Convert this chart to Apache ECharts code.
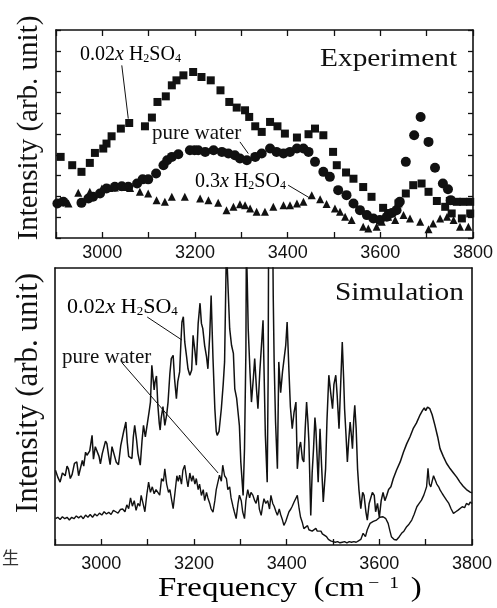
<!DOCTYPE html>
<html><head><meta charset="utf-8">
<script src="https://cdn.jsdelivr.net/npm/echarts@6/dist/echarts.min.js"></script>
<style>html,body{margin:0;padding:0;background:#fff}#c{width:497px;height:608px}</style>
</head><body><div id="c"></div>
<script>
// ---------- data ----------
const xTickLabels = [3000, 3200, 3400, 3600, 3800];

// Experiment (markers)
const expAcid002 = [[2910,3.9],[2935,3.5],[2955,3.18],[2973,3.61],[2984,4.09],[3002,4.30],[3009,4.54],[3020,4.89],[3040,5.26],[3058,5.53],[3092,5.37],[3107,5.79],[3119,6.54],[3137,6.81],[3150,7.34],[3160,7.58],[3175,7.82],[3196,7.98],[3214,7.74],[3234,7.58],[3255,7.10],[3274,6.54],[3290,6.27],[3308,6.14],[3317,5.82],[3330,5.37],[3344,5.10],[3362,5.58],[3378,5.37],[3394,5.02],[3420,4.83],[3445,4.99],[3459,5.26],[3477,4.94],[3498,4.14],[3506,3.5],[3526,3.15],[3542,2.85],[3563,2.45],[3581,1.98],[3606,1.45],[3617,1.2],[3639,1.66],[3655,2.14],[3671,2.54],[3689,2.62],[3704,2.22],[3722,1.78],[3740,1.5],[3750,1.78],[3754,1.18],[3765,1.74],[3776,0.94],[3779,1.74],[3794,1.74],[3794,1.18]];
const expWater = [[2903,1.66],[2916,1.74],[2955,1.69],[2970,1.90],[2980,1.98],[2995,2.14],[3009,2.38],[3027,2.46],[3042,2.49],[3056,2.46],[3075,2.62],[3087,2.82],[3099,2.82],[3116,3.1],[3132,3.5],[3140,3.74],[3150,3.9],[3164,4.03],[3189,4.22],[3199,4.22],[3207,4.22],[3222,4.14],[3240,4.22],[3258,4.14],[3272,4.06],[3286,3.98],[3297,3.82],[3312,3.74],[3330,3.9],[3344,4.06],[3362,4.30],[3376,4.14],[3391,4.06],[3405,4.14],[3420,4.30],[3434,4.30],[3445,4.14],[3459,3.66],[3477,3.18],[3491,2.94],[3509,2.30],[3527,2.06],[3542,1.66],[3556,1.34],[3571,1.10],[3585,0.94],[3599,0.86],[3614,1.02],[3625,1.2],[3635,1.34],[3642,1.74],[3655,3.66],[3673,4.94],[3687,5.82],[3704,4.62],[3718,3.38],[3735,2.62],[3746,2.34],[3752,1.82]];
const expAcid03 = [[2910,1.8],[2927,1.66],[2948,2.17],[2973,2.22],[2999,2.38],[3015,2.4],[3027,2.43],[3045,2.45],[3060,2.4],[3081,2.22],[3099,2.14],[3117,1.82],[3135,1.74],[3150,1.98],[3178,1.98],[3211,1.90],[3229,1.82],[3250,1.69],[3268,1.34],[3283,1.50],[3297,1.62],[3308,1.58],[3319,1.42],[3333,1.26],[3351,1.26],[3369,1.50],[3391,1.58],[3405,1.58],[3420,1.66],[3434,1.74],[3452,2.05],[3470,1.86],[3484,1.64],[3502,1.42],[3513,1.26],[3524,1.02],[3538,0.86],[3563,0.54],[3574,0.46],[3592,0.54],[3603,0.78],[3617,1.02],[3632,0.86],[3650,1.10],[3664,0.94],[3686,0.78],[3704,0.42],[3714,0.70],[3729,0.94],[3744,1.02],[3758,0.86],[3772,0.54],[3790,0.54]];

// Simulation (lines)
const simAcid002 = [[2901,2.70],[2906,2.45],[2911,2.27],[2916,2.60],[2922,2.50],[2926,2.85],[2929,2.75],[2933,2.40],[2937,2.55],[2942,2.95],[2947,3.00],[2951,2.50],[2955,2.55],[2959,3.05],[2962,2.85],[2966,3.35],[2969,3.24],[2975,3.40],[2980,3.96],[2983,3.10],[2987,3.55],[2991,3.60],[2995,3.20],[2998,2.93],[3002,3.30],[3005,3.30],[3009,3.75],[3012,3.66],[3016,3.20],[3019,2.90],[3023,3.55],[3027,3.50],[3032,3.00],[3037,2.90],[3042,3.60],[3048,4.08],[3053,4.44],[3056,3.70],[3059,3.20],[3066,3.12],[3069,3.90],[3072,4.32],[3076,3.80],[3079,3.30],[3084,2.88],[3088,3.80],[3091,4.32],[3095,3.90],[3099,3.85],[3103,4.80],[3106,5.16],[3109,6.49],[3112,6.56],[3114,5.60],[3116,5.90],[3119,6.10],[3122,5.04],[3125,4.40],[3127,4.15],[3129,4.56],[3133,5.00],[3137,4.32],[3141,4.70],[3144,5.16],[3148,6.20],[3151,6.73],[3155,6.85],[3158,6.00],[3162,5.28],[3165,5.90],[3169,6.25],[3172,7.40],[3174,8.05],[3177,8.24],[3180,7.33],[3184,6.80],[3187,6.36],[3191,6.13],[3195,6.32],[3198,7.57],[3202,7.00],[3205,6.49],[3209,8.00],[3213,8.73],[3216,8.00],[3219,7.81],[3223,7.20],[3227,6.80],[3230,6.36],[3234,7.60],[3237,9.01],[3241,6.73],[3245,4.92],[3248,4.10],[3250,3.96],[3254,4.10],[3259,4.92],[3263,5.80],[3266,6.61],[3270,10.8],[3274,9.09],[3277,7.81],[3281,7.21],[3285,6.92],[3288,5.64],[3292,5.30],[3295,4.80],[3298,4.30],[3301,3.00],[3306,1.79],[3309,3.48],[3312,7.00],[3313,10.8],[3315,9.50],[3317,7.81],[3321,6.20],[3324,5.16],[3328,6.00],[3331,6.73],[3335,5.60],[3338,4.92],[3342,6.25],[3346,7.30],[3349,8.11],[3351,8.17],[3354,3.96],[3358,2.27],[3360,6.00],[3361,11.0],[3370,11.0],[3371,9.00],[3373,6.61],[3376,4.44],[3380,2.75],[3383,6.61],[3387,5.50],[3391,6.25],[3395,6.80],[3398,7.21],[3401,8.05],[3405,6.25],[3408,5.00],[3412,4.20],[3416,4.80],[3420,5.16],[3423,2.75],[3427,3.50],[3430,3.72],[3434,3.10],[3437,3.00],[3440,4.20],[3443,5.16],[3446,4.40],[3448,3.72],[3452,1.07],[3455,2.60],[3458,3.48],[3461,4.60],[3463,4.20],[3468,2.27],[3472,4.20],[3475,3.00],[3479,1.55],[3484,2.75],[3487,4.50],[3491,6.13],[3495,5.50],[3499,4.92],[3502,5.80],[3506,6.13],[3509,5.40],[3513,4.20],[3517,6.00],[3520,7.33],[3523,6.00],[3525,4.92],[3528,4.00],[3531,3.00],[3534,3.80],[3537,4.44],[3540,3.90],[3542,3.48],[3545,4.60],[3547,5.04],[3550,4.20],[3553,2.75],[3556,2.00],[3560,1.31],[3564,1.90],[3567,1.79],[3571,1.20],[3574,0.90],[3578,1.50],[3581,1.55],[3585,1.90],[3589,1.79],[3592,1.20],[3596,1.50],[3600,1.00],[3604,1.60],[3608,1.90],[3612,1.60],[3616,1.79],[3620,2.00],[3625,2.10],[3630,2.39],[3637,2.70],[3645,3.00],[3652,3.35],[3659,3.65],[3666,3.90],[3673,4.20],[3680,4.40],[3688,4.70],[3693,4.85],[3697,4.95],[3700,4.85],[3704,4.98],[3709,4.92],[3714,4.70],[3720,4.32],[3726,3.90],[3731,3.48],[3738,3.20],[3745,2.95],[3753,2.75],[3760,2.60],[3767,2.45],[3774,2.27],[3781,2.12],[3788,2.00],[3796,1.91],[3800,1.88]];
const simWater = [[2901,0.95],[2906,1.00],[2911,0.92],[2916,1.02],[2921,0.95],[2926,1.00],[2931,0.90],[2936,1.00],[2941,0.95],[2946,1.05],[2951,0.98],[2956,1.05],[2961,0.95],[2966,1.08],[2971,1.00],[2976,1.10],[2981,1.00],[2986,1.12],[2991,1.05],[2996,1.15],[3001,1.08],[3006,1.20],[3011,1.12],[3016,1.18],[3021,1.10],[3026,1.25],[3031,1.20],[3036,1.15],[3041,1.28],[3046,1.30],[3051,1.20],[3055,1.45],[3059,1.31],[3063,1.70],[3067,1.40],[3071,1.60],[3075,1.25],[3079,1.50],[3083,1.40],[3086,1.79],[3090,1.50],[3094,1.20],[3098,1.80],[3102,2.27],[3106,1.90],[3110,2.10],[3114,1.85],[3118,2.00],[3122,2.03],[3126,1.80],[3130,2.40],[3134,2.30],[3137,2.75],[3141,2.20],[3145,1.90],[3148,2.00],[3152,1.60],[3155,1.31],[3159,1.90],[3163,2.50],[3166,2.30],[3169,2.52],[3173,2.20],[3176,2.70],[3180,2.88],[3184,2.40],[3187,2.10],[3191,2.60],[3195,2.30],[3198,2.50],[3202,2.20],[3205,2.40],[3209,2.00],[3212,2.20],[3216,1.79],[3220,2.00],[3223,1.60],[3227,1.90],[3230,1.70],[3234,1.50],[3237,1.30],[3241,1.19],[3245,1.60],[3248,2.00],[3252,2.30],[3255,2.52],[3259,2.30],[3262,2.88],[3266,2.50],[3270,2.40],[3273,2.00],[3277,2.10],[3280,1.70],[3284,1.40],[3287,1.20],[3291,0.95],[3295,1.50],[3298,1.80],[3302,1.60],[3305,1.20],[3309,0.95],[3312,1.60],[3316,2.00],[3320,1.70],[3323,1.90],[3327,1.80],[3331,1.60],[3334,1.50],[3338,1.80],[3341,1.30],[3345,1.07],[3348,1.40],[3351,1.67],[3355,1.50],[3359,1.60],[3363,1.30],[3366,1.79],[3370,1.50],[3373,1.40],[3377,1.20],[3380,1.07],[3384,1.30],[3387,1.10],[3391,0.90],[3394,0.71],[3398,0.85],[3401,1.00],[3405,1.20],[3409,1.30],[3412,1.40],[3416,1.55],[3420,1.60],[3423,1.79],[3427,1.30],[3430,1.00],[3434,0.80],[3437,0.59],[3441,0.60],[3445,0.70],[3448,0.55],[3452,0.62],[3455,0.50],[3459,0.47],[3463,0.60],[3466,0.50],[3470,0.45],[3474,0.50],[3477,0.40],[3481,0.35],[3486,0.30],[3490,0.20],[3495,0.15],[3500,0.12],[3505,0.10],[3510,0.12],[3515,0.08],[3520,0.10],[3525,0.12],[3530,0.08],[3535,0.12],[3540,0.10],[3545,0.12],[3550,0.10],[3555,0.15],[3560,0.20],[3565,0.42],[3570,0.30],[3574,0.55],[3580,0.78],[3587,0.85],[3594,0.90],[3601,1.00],[3608,1.02],[3614,0.95],[3619,0.78],[3623,0.50],[3626,0.30],[3632,0.20],[3637,0.18],[3643,0.30],[3648,0.42],[3653,0.50],[3659,0.66],[3664,0.75],[3670,0.90],[3675,1.10],[3681,1.38],[3686,1.50],[3691,1.62],[3696,1.80],[3700,2.00],[3702,2.10],[3705,2.77],[3708,2.20],[3711,2.10],[3714,2.30],[3717,2.50],[3720,2.47],[3724,2.20],[3728,2.10],[3731,1.99],[3736,1.85],[3740,1.75],[3745,1.62],[3750,1.50],[3755,1.30],[3760,1.14],[3765,1.20],[3770,1.26],[3774,1.30],[3779,1.38],[3784,1.35],[3788,1.50],[3793,1.45],[3796,1.55],[3800,1.50]];

// ---------- chart ----------
const SERIF = "'Liberation Serif','Times New Roman',serif";
const SANS = "'Liberation Sans',Arial,sans-serif";
const INK = '#111';

function xAx(grid, pos, labels, ticks, margin) {
  return {
    type: 'value', gridIndex: grid, position: pos, min: 2900, max: 3800, interval: 100,
    axisLine: { show: true, onZero: false, lineStyle: { color: INK, width: 1.6 } },
    axisTick: { show: ticks, inside: true, length: 6, lineStyle: { color: INK, width: 1.3 } },
    axisLabel: { show: labels, margin: margin, fontFamily: SANS, fontSize: 18, color: INK,
      formatter: v => xTickLabels.includes(v) ? String(v) : '' },
    splitLine: { show: false }
  };
}
function yAx(grid, pos, ticks) {
  return {
    type: 'value', gridIndex: grid, position: pos, min: 0, max: 10, interval: 1,
    axisLine: { show: true, onZero: false, lineStyle: { color: INK, width: 1.6 } },
    axisTick: { show: ticks, inside: true, length: 5, lineStyle: { color: INK, width: 1.3 } },
    axisLabel: { show: false }, splitLine: { show: false }
  };
}

const chart = echarts.init(document.getElementById('c'));
chart.setOption({
  animation: false,
  backgroundColor: '#fff',
  grid: [
    { left: 56, top: 30, width: 417, height: 208 },
    { left: 55, top: 268, width: 417, height: 277 }
  ],
  xAxis: [xAx(0, 'bottom', true, true, 6), xAx(0, 'top', false, true, 6),
          xAx(1, 'bottom', true, true, 10), xAx(1, 'top', false, false, 6)],
  yAxis: [yAx(0, 'left', true), yAx(0, 'right', true),
          yAx(1, 'left', false), yAx(1, 'right', false)],
  series: [
    { name: '0.02x H2SO4 (exp)', type: 'scatter', xAxisIndex: 0, yAxisIndex: 0, data: expAcid002,
      symbol: 'rect', symbolSize: 8, itemStyle: { color: INK, opacity: 1 } },
    { name: 'pure water (exp)', type: 'scatter', xAxisIndex: 0, yAxisIndex: 0, data: expWater,
      symbol: 'circle', symbolSize: 10, itemStyle: { color: INK, opacity: 1 } },
    { name: '0.3x H2SO4 (exp)', type: 'scatter', xAxisIndex: 0, yAxisIndex: 0, data: expAcid03,
      symbol: 'triangle', symbolSize: 8, itemStyle: { color: INK, opacity: 1 } },
    { name: '0.02x H2SO4 (sim)', type: 'line', xAxisIndex: 2, yAxisIndex: 2, data: simAcid002,
      showSymbol: false, symbol: 'none', clip: true, lineStyle: { color: INK, width: 1.5 } },
    { name: 'pure water (sim)', type: 'line', xAxisIndex: 2, yAxisIndex: 2, data: simWater,
      showSymbol: false, symbol: 'none', clip: true, lineStyle: { color: INK, width: 1.4 } }
  ]
});

// leader lines, given in data coordinates of each panel
const leaders = [
  { g: 0, a: [3042, 8.30], b: [3056, 5.74] },
  { g: 0, a: [3297, 4.62], b: [3315, 4.06] },
  { g: 0, a: [3401, 2.54], b: [3448, 1.92] },
  { g: 1, a: [3099, 8.23], b: [3174, 7.40] },
  { g: 1, a: [3045, 6.57], b: [3252, 2.60] }
];
const graphics = [];
leaders.forEach(l => {
  const p1 = chart.convertToPixel({ gridIndex: l.g }, l.a);
  const p2 = chart.convertToPixel({ gridIndex: l.g }, l.b);
  graphics.push({ type: 'line', shape: { x1: p1[0], y1: p1[1], x2: p2[0], y2: p2[1] },
    style: { stroke: INK, lineWidth: 1 }, z: 100 });
});

function acidRich(size) {
  return {
    n: { fontFamily: SERIF, fontSize: size, color: INK, verticalAlign: 'bottom' },
    i: { fontFamily: SERIF, fontSize: size, fontStyle: 'italic', color: INK, verticalAlign: 'bottom' },
    s: { fontFamily: SERIF, fontSize: Math.round(size * 0.6), color: INK, verticalAlign: 'bottom' }
  };
}
function label(x, y, text, font, opts) {
  return Object.assign({ type: 'text', x: x, y: y, z: 100,
    style: Object.assign({ text: text, font: font, fill: INK, verticalAlign: 'middle', align: 'left' }, (opts && opts.style) || {}) },
    (opts && opts.el) || {});
}

graphics.push(
  label(320, 59, 'Experiment', '26px ' + SERIF, { el: { scaleX: 1.13 } }),
  label(335, 293, 'Simulation', '26px ' + SERIF, { el: { scaleX: 1.13 } }),
  { type: 'text', x: 80, y: 55, z: 100, style: { text: '{n|0.02}{i|x}{n| H}{s|2}{n|SO}{s|4}', rich: acidRich(20), verticalAlign: 'middle' } },
  label(152, 133, 'pure water', '21px ' + SERIF),
  { type: 'text', x: 195, y: 182, z: 100, style: { text: '{n|0.3}{i|x}{n| H}{s|2}{n|SO}{s|4}', rich: acidRich(20), verticalAlign: 'middle' } },
  { type: 'text', x: 67, y: 307, z: 100, style: { text: '{n|0.02}{i|x}{n| H}{s|2}{n|SO}{s|4}', rich: acidRich(22), verticalAlign: 'middle' } },
  label(62, 357, 'pure water', '21px ' + SERIF),
  { type: 'text', x: 29, y: 128, rotation: Math.PI / 2, z: 100,
    style: { text: 'Intensity (arb. unit)', font: '29px ' + SERIF, fill: INK, align: 'center', verticalAlign: 'middle' } },
  { type: 'text', x: 29, y: 393, rotation: Math.PI / 2, z: 100,
    style: { text: 'Intensity (arb. unit)', font: '31px ' + SERIF, fill: INK, align: 'center', verticalAlign: 'middle' } },
  { type: 'text', x: 158, y: 589, scaleX: 1.22, z: 100,
    style: { text: '{a|Frequency  (cm}{s|−  1}{a| )}', verticalAlign: 'middle',
      rich: { a: { fontFamily: SERIF, fontSize: 27, color: INK, verticalAlign: 'bottom' },
              s: { fontFamily: SERIF, fontSize: 16, color: INK, verticalAlign: 'top', padding: [0, 3, 0, 3] } } } },
  label(2, 558, '生', "17px 'Noto Sans CJK SC'", { style: { fill: '#333' } })
);
chart.setOption({ graphic: graphics });
</script>
</body></html>
